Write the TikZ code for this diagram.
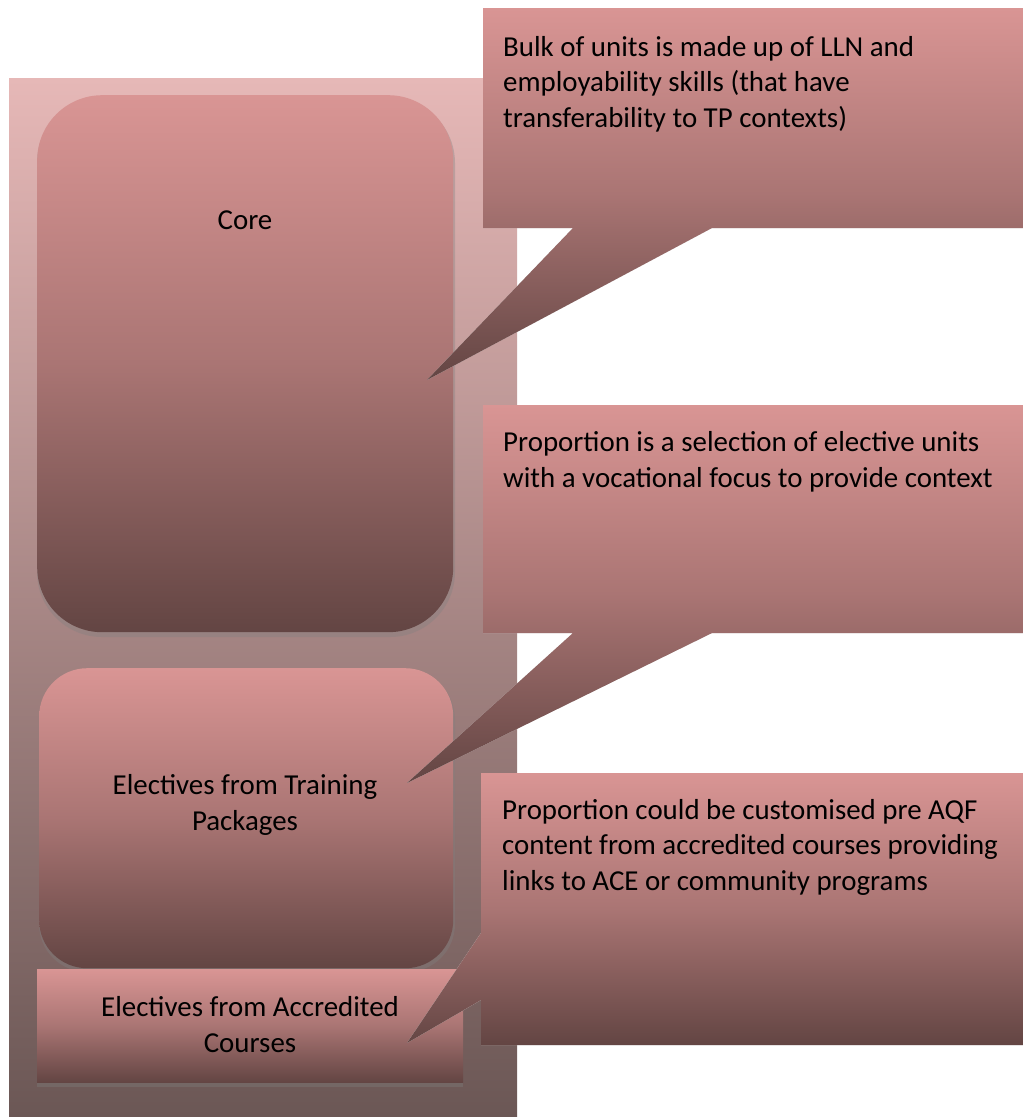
\documentclass[tikz,border=0pt]{standalone}
\usepackage{fontspec}
\setmainfont{Carlito}
\definecolor{ptop}{HTML}{D99594}
\definecolor{pbot}{HTML}{634543}
\definecolor{bgtop}{HTML}{E6B8B7}
\definecolor{bgbot}{HTML}{6B5755}
\definecolor{cshade}{HTML}{D6D6D6}
\begin{document}
\begin{tikzpicture}[x=1pt,y=-1pt,
  txt/.style={font=\fontsize{28.9}{35.5}\selectfont, inner sep=0pt},
  lbl/.style={txt, align=center, anchor=base},
  ctext/.style={txt, align=left, anchor=base west},
  pinkgrad/.style={top color=ptop, bottom color=pbot, middle color=ptop!60!pbot},
  boxshadow/.style={fill=gray, opacity=0.35},
  calloutshadow/.style={fill=cshade}]
\useasboundingbox (0,0) rectangle (1023,1117);
\fill[white] (0,0) rectangle (1023,1117);

% background panel
\node[inner sep=0pt, minimum width=508pt, minimum height=1039pt,
      top color=bgtop, bottom color=bgbot, anchor=north west] (bg) at (9,78) {};

% Core
\fill[boxshadow, rounded corners=65pt] (37,98) rectangle (455,637);
\node[pinkgrad, rounded corners=65pt, inner sep=0pt, minimum width=416pt,
      minimum height=537pt, anchor=north west] (core) at (37,95) {};
\node[lbl] (coret) at (245,229) {Core};

% Electives from Training Packages
\fill[boxshadow, rounded corners=48pt] (39,671) rectangle (455,972);
\node[pinkgrad, rounded corners=48pt, inner sep=0pt, minimum width=414pt,
      minimum height=300pt, anchor=north west] (tp) at (39,668) {};
\node[lbl] (tpt) at (245,830) {Electives from Training\\Packages};

% Electives from Accredited Courses
\fill[boxshadow] (37,972) rectangle (463,1087);
\node[pinkgrad, inner sep=0pt, minimum width=426pt, minimum height=113pt,
      anchor=north west] (acc) at (37,969) {};
\node[lbl] (acct) at (250,1052) {Electives from Accredited\\Courses};

% Callout 1
\coordinate (c1nw) at (483,8);
\coordinate (c1ne) at (1023,8);
\coordinate (c1se) at (1023,228);
\coordinate (c1sw) at (483,228);
\coordinate (c1b1) at (573,228);
\coordinate (c1b2) at (712,228);
\coordinate (c1tip) at (427,380);
\fill[calloutshadow, shift={(3,4)}] (c1nw) -- (c1ne) -- (c1se) -- (c1b2) -- (c1tip) -- (c1b1) -- (c1sw) -- cycle;
\path[pinkgrad] (c1nw) -- (c1ne) -- (c1se) -- (c1b2) -- (c1tip) -- (c1b1) -- (c1sw) -- cycle;
\node[ctext] (c1t) at (503,127) {Bulk of units is made up of LLN and\\employability skills (that have\\transferability to TP contexts)};

% Callout 2
\coordinate (c2nw) at (483,405);
\coordinate (c2ne) at (1023,405);
\coordinate (c2se) at (1023,633);
\coordinate (c2sw) at (483,633);
\coordinate (c2b1) at (573,633);
\coordinate (c2b2) at (712,633);
\coordinate (c2tip) at (407,783);
\fill[calloutshadow, shift={(3,4)}] (c2nw) -- (c2ne) -- (c2se) -- (c2b2) -- (c2tip) -- (c2b1) -- (c2sw) -- cycle;
\path[pinkgrad] (c2nw) -- (c2ne) -- (c2se) -- (c2b2) -- (c2tip) -- (c2b1) -- (c2sw) -- cycle;
\node[ctext] (c2t) at (503,487) {Proportion is a selection of elective units\\with a vocational focus to provide context};

% Callout 3
\coordinate (c3nw) at (481,773);
\coordinate (c3ne) at (1023,773);
\coordinate (c3se) at (1023,1045);
\coordinate (c3sw) at (481,1045);
\coordinate (c3b1) at (481,933);
\coordinate (c3b2) at (481,1000);
\coordinate (c3tip) at (407,1043);
\fill[calloutshadow, shift={(3,4)}] (c3nw) -- (c3ne) -- (c3se) -- (c3sw) -- (c3b2) -- (c3tip) -- (c3b1) -- cycle;
\path[pinkgrad] (c3nw) -- (c3ne) -- (c3se) -- (c3sw) -- (c3b2) -- (c3tip) -- (c3b1) -- cycle;
\node[ctext] (c3t) at (502,890) {Proportion could be customised pre AQF\\content from accredited courses providing\\links to ACE or community programs};
\end{tikzpicture}
\end{document}
